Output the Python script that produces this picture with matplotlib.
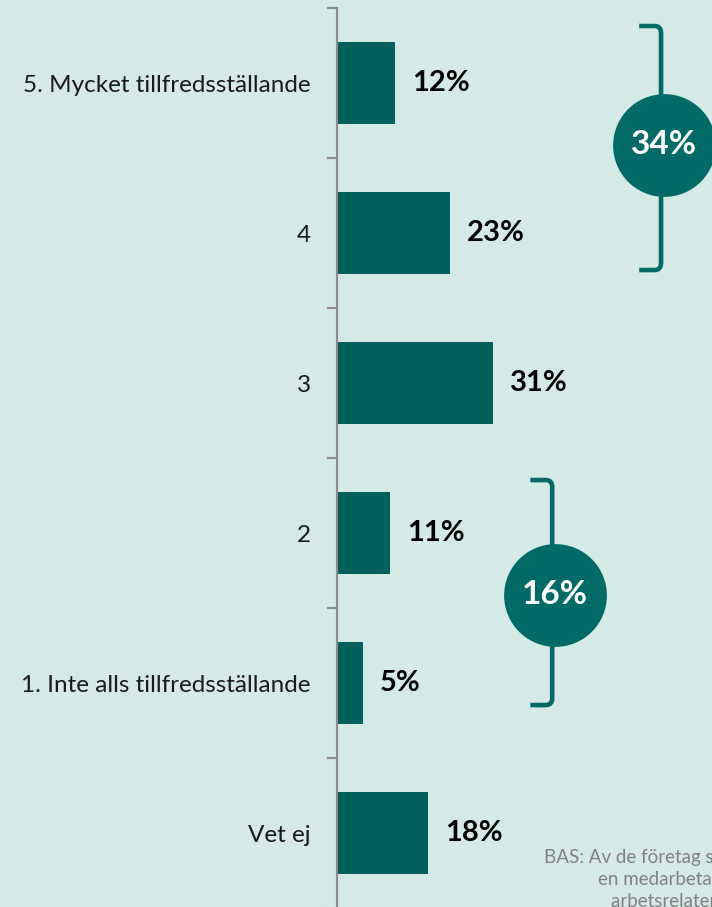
import matplotlib
matplotlib.use("Agg")
import matplotlib.pyplot as plt
from matplotlib.path import Path
from matplotlib.patches import PathPatch

plt.rcParams["font.family"] = ["Lato", "DejaVu Sans"]

categories = ["5. Mycket tillfredsställande", "4", "3", "2",
              "1. Inte alls tillfredsställande", "Vet ej"]
values = [11.7, 22.7, 31.4, 10.7, 5.2, 18.3]
value_labels = ["12%", "23%", "31%", "11%", "5%", "18%"]

# grouped totals: (first category, last category, label)
groups = [(0, 1, "34%"), (3, 4, "16%")]
# bracket x position and circle centre (data units) per group
group_x = [65.2, 43.3]
group_circle_y = [0.41, 3.41]
group_span = [(-0.38, 1.247), (2.647, 4.147)]

bg = "#D3EAE7"
bar_color = "#00605C"
accent = "#006B66"

W, H = 712, 907
fig = plt.figure(figsize=(W / 100, H / 100), dpi=100)
fig.patch.set_facecolor(bg)

px_per_unit = 4.97
left_px = 337
ax = fig.add_axes([left_px / W, -1 / H, (W - left_px) / W, 900 / H])
ax.set_facecolor(bg)

ypos = list(range(len(categories)))
ax.barh(ypos, values, height=0.55, color=bar_color)

ax.set_xlim(0, (W - left_px) / px_per_unit)
ax.set_ylim(len(categories) - 0.5, -0.5)

for s in ["top", "right", "bottom"]:
    ax.spines[s].set_visible(False)
ax.spines["left"].set_color("#8C8C8C")
ax.spines["left"].set_linewidth(1.5)
ax.set_xticks([])

# tick marks between categories, labels centred on categories
ax.set_yticks([i - 0.5 for i in range(len(categories) + 1)])
ax.set_yticklabels([])
ax.tick_params(axis="y", which="major", length=7, width=1.5, color="#8C8C8C")
ax.set_yticks(ypos, minor=True)
ax.set_yticklabels(categories, minor=True, fontsize=17.5, color="#1A1A1A")
ax.tick_params(axis="y", which="minor", length=0, pad=19)

for y, v, lab in zip(ypos, values, value_labels):
    ax.annotate(lab, (v, y), xytext=(12.5, 0), textcoords="offset points",
                ha="left", va="center", fontsize=21, fontweight="bold",
                color="black")

# brackets and circles
rx, ry = 1.3, 0.045
arm = 4.4
for (g0, g1, lab), gx, cy, (y0, y1) in zip(groups, group_x, group_circle_y, group_span):
    verts = [(gx - arm, y0), (gx - rx, y0), (gx, y0), (gx, y0 + ry),
             (gx, y1 - ry), (gx, y1), (gx - rx, y1), (gx - arm, y1)]
    codes = [Path.MOVETO, Path.LINETO, Path.CURVE3, Path.CURVE3,
             Path.LINETO, Path.CURVE3, Path.CURVE3, Path.LINETO]
    ax.add_patch(PathPatch(Path(verts, codes), fill=False, edgecolor=accent,
                           lw=3.3, clip_on=False, capstyle="butt"))
    ax.scatter([gx + 0.6], [cy], s=74 ** 2, color=accent, zorder=5,
               clip_on=False, linewidths=0)
    ax.text(gx + 0.6, cy, lab, ha="center", va="center", fontsize=24,
            fontweight="bold", color="white", zorder=6)

fig.text(702 / W, 1 - 849 / H,
         "BAS: Av de företag som har haft minst\nen medarbetare som haft\narbetsrelaterad ohälsa",
         ha="center", va="top", fontsize=13.5, color="#808080",
         linespacing=1.35)

fig.savefig("out.png", dpi=100, facecolor=bg)
